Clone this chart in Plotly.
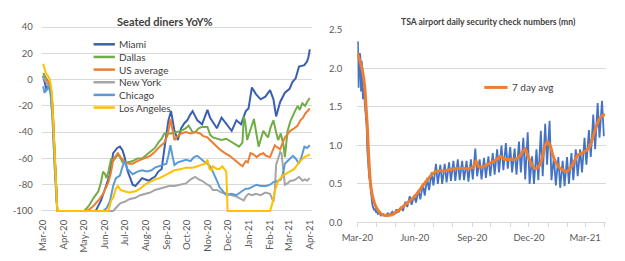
import pandas as pd
import plotly.graph_objects as go

START = pd.Timestamp("2020-03-01")

# ---------------- Left chart: Seated diners YoY% (day offset from 2020-03-01, value) ----
series_names = ["Miami", "Dallas", "US average", "New York", "Chicago", "Los Angeles"]
series_colors = ["#3B5FB0", "#70AD47", "#ED7D31", "#A5A5A5", "#5B9BD5", "#FFC000"]

miami = [(0, 3), (3, -5), (5, -8), (8, -3), (11, -8), (14, -25), (17, -60), (21, -100), (78, -100),
         (86, -92), (94, -80), (99, -72), (104, -56), (110, -52), (114, -51), (118, -54), (121, -59),
         (125, -69), (133, -80), (137, -81), (142, -78), (147, -75), (152, -76), (157, -77), (162, -75),
         (166, -74), (171, -70), (176, -68), (180, -53), (186, -31), (190, -24), (195, -39), (200, -46),
         (205, -37), (210, -33), (214, -31), (218, -27), (222, -24), (229, -31), (236, -34), (244, -23),
         (248, -29), (253, -33), (258, -37), (265, -29), (272, -34), (280, -39), (287, -31), (294, -34),
         (298, -28), (301, -24), (305, -22), (308, -10), (310, -6), (316, -11), (323, -15), (330, -13),
         (337, -8), (342, -15), (346, -28), (352, -17), (359, -10), (366, -7), (370, -2), (375, 1),
         (380, 10), (388, 11), (392, 14), (394, 17), (396, 23)]

dallas = [(0, 5), (4, 2), (8, -2), (11, -6), (14, -20), (17, -55), (21, -100), (61, -100), (68, -96),
          (75, -90), (82, -85), (86, -78), (89, -70), (92, -72), (94, -75), (97, -70), (101, -60),
          (104, -62), (111, -57), (114, -59), (118, -63), (125, -63), (133, -62), (140, -60), (147, -60),
          (154, -57), (159, -55), (166, -52), (171, -48), (176, -45), (180, -41), (190, -41), (197, -40),
          (205, -39), (212, -37), (216, -35), (222, -40), (226, -40), (231, -37), (236, -36), (244, -36),
          (248, -42), (252, -44), (258, -45), (265, -46), (272, -45), (281, -48), (291, -51), (296, -48),
          (298, -28), (300, -32), (303, -46), (308, -38), (313, -30), (317, -42), (320, -51), (324, -44),
          (327, -39), (331, -42), (334, -44), (338, -36), (342, -31), (346, -40), (349, -46), (353, -41),
          (357, -50), (359, -59), (361, -48), (363, -39), (367, -32), (370, -28), (374, -24), (378, -20),
          (381, -23), (385, -18), (389, -20), (392, -17), (396, -14)]

us_average = [(0, 2), (4, 0), (8, -2), (11, -5), (14, -20), (17, -55), (21, -100), (64, -100), (68, -99),
              (75, -96), (82, -92), (89, -87), (94, -82), (97, -78), (101, -70), (104, -61), (108, -58),
              (111, -56), (115, -59), (118, -61), (122, -63), (128, -64), (133, -64), (140, -62),
              (151, -60), (159, -58), (166, -55), (173, -51), (180, -48), (185, -42), (189, -30),
              (192, -38), (195, -46), (200, -43), (205, -41), (212, -40), (219, -41), (226, -40),
              (233, -41), (238, -43), (244, -44), (252, -48), (262, -53), (270, -56), (277, -58),
              (284, -61), (291, -64), (296, -66), (301, -62), (304, -63), (308, -56), (313, -57),
              (317, -59), (322, -57), (327, -56), (331, -58), (337, -59), (344, -50), (349, -52),
              (352, -53), (359, -44), (363, -41), (367, -39), (373, -37), (378, -35), (382, -31),
              (386, -29), (389, -26), (393, -24), (396, -22)]

new_york = [(0, 2), (4, -2), (8, -5), (11, -10), (14, -30), (17, -65), (21, -100), (104, -100),
            (107, -98), (111, -96), (115, -94), (121, -93), (128, -91), (137, -90), (144, -88), (151, -87),
            (159, -86), (166, -84), (173, -83), (180, -82), (187, -81), (195, -81), (205, -80), (212, -79),
            (219, -76), (222, -75), (226, -74), (231, -76), (236, -77), (244, -80), (248, -81), (252, -84),
            (258, -84), (265, -86), (272, -87), (280, -88), (287, -89), (294, -91), (298, -92), (301, -89),
            (305, -87), (310, -88), (316, -87), (323, -88), (330, -86), (337, -87), (342, -93), (344, -85),
            (346, -65), (349, -60), (352, -55), (354, -56), (357, -70), (359, -80), (363, -79), (367, -77),
            (370, -77), (375, -76), (380, -74), (385, -77), (389, -76), (392, -77), (396, -75)]

chicago = [(0, -5), (2, -10), (5, -8), (8, -5), (11, -10), (14, -30), (17, -65), (21, -100), (89, -100),
           (94, -98), (99, -93), (104, -81), (108, -75), (114, -73), (118, -66), (121, -62), (125, -68),
           (133, -72), (140, -70), (147, -69), (154, -70), (161, -69), (166, -67), (171, -66), (177, -65),
           (183, -64), (186, -58), (189, -50), (192, -58), (195, -65), (200, -63), (205, -62), (212, -61),
           (219, -62), (224, -59), (229, -58), (233, -60), (238, -62), (244, -64), (248, -66), (252, -70),
           (255, -73), (259, -78), (262, -82), (267, -85), (272, -88), (280, -87), (287, -88), (295, -85),
           (301, -83), (305, -83), (310, -82), (317, -80), (323, -81), (331, -81), (337, -80), (342, -78),
           (349, -77), (353, -76), (356, -72), (359, -64), (363, -62), (367, -60), (371, -58), (375, -60),
           (380, -64), (383, -60), (388, -51), (392, -52), (396, -50)]

los_angeles = [(0, 12), (2, 8), (4, 5), (7, 3), (10, 0), (13, -10), (16, -40), (19, -75), (21, -100),
               (97, -100), (101, -92), (104, -90), (108, -83), (111, -81), (115, -84), (121, -85),
               (128, -86), (137, -85), (144, -83), (151, -80), (158, -78), (166, -76), (173, -75),
               (180, -73), (187, -71), (190, -70), (195, -69), (205, -68), (212, -67), (222, -67),
               (229, -66), (236, -65), (241, -64), (244, -61), (247, -68), (250, -69), (252, -66),
               (258, -68), (262, -68), (266, -66), (270, -69), (272, -70), (274, -100), (337, -100),
               (340, -95), (344, -85), (349, -77), (356, -73), (363, -71), (366, -70), (373, -68),
               (380, -63), (388, -59), (392, -58), (396, -57)]

left_series = [miami, dallas, us_average, new_york, chicago, los_angeles]
left_yticks = [-100, -80, -60, -40, -20, 0, 20, 40]

# ---------------- Right chart: TSA daily security checks (mn) ----------------
tsa_early = [(0, 2.30), (1, 2.35), (2, 1.75), (4, 2.20), (5, 2.15), (6, 1.70), (7, 2.10), (8, 2.00),
             (9, 1.60), (11, 1.75), (12, 1.55), (13, 1.45), (14, 1.30), (15, 1.25), (16, 0.95),
             (17, 0.78), (18, 0.62), (19, 0.59), (20, 0.55), (21, 0.45), (22, 0.33), (23, 0.28),
             (24, 0.24), (25, 0.20), (26, 0.18), (27, 0.16), (28, 0.18), (29, 0.15), (30, 0.13),
             (31, 0.14), (32, 0.12), (33, 0.11), (34, 0.12)]
tsa_first_week = 5  # weekly high (Sunday) / low (Wednesday) from week starting 2020-04-05
tsa_week_high = [0.12, 0.11, 0.12, 0.14, 0.17, 0.20, 0.27, 0.34, 0.35, 0.42, 0.50, 0.58, 0.65, 0.76,
                 0.75, 0.76, 0.78, 0.80, 0.82, 0.80, 0.80, 0.82, 0.96, 0.82, 0.84, 0.86, 0.90, 0.95,
                 1.00, 1.03, 0.98, 0.96, 1.05, 1.10, 1.17, 0.86, 0.95, 1.19, 1.28, 1.32, 0.85, 0.85,
                 0.80, 0.85, 0.90, 0.95, 0.95, 1.10, 1.20, 1.40, 1.55, 1.58]
tsa_week_low = [0.09, 0.087, 0.095, 0.11, 0.13, 0.15, 0.20, 0.23, 0.26, 0.30, 0.35, 0.42, 0.48, 0.50,
                0.50, 0.52, 0.54, 0.54, 0.55, 0.55, 0.53, 0.56, 0.60, 0.56, 0.58, 0.60, 0.62, 0.65,
                0.68, 0.70, 0.65, 0.62, 0.65, 0.56, 0.50, 0.50, 0.55, 0.60, 0.75, 0.55, 0.48, 0.45,
                0.47, 0.50, 0.55, 0.60, 0.65, 0.75, 0.85, 0.95, 1.10, 1.12]

tsa_avg = [(0, 2.20), (4, 2.10), (8, 1.98), (12, 1.75), (14, 1.50), (16, 1.25), (18, 0.90), (20, 0.62),
           (22, 0.45), (25, 0.32), (29, 0.22), (33, 0.16), (40, 0.10), (48, 0.09), (55, 0.10), (62, 0.13),
           (68, 0.17), (75, 0.22), (84, 0.28), (91, 0.33), (98, 0.40), (105, 0.48), (112, 0.55),
           (118, 0.61), (125, 0.66), (132, 0.67), (140, 0.67), (150, 0.69), (160, 0.70), (170, 0.70),
           (180, 0.70), (186, 0.72), (190, 0.80), (194, 0.73), (200, 0.72), (210, 0.76), (220, 0.80),
           (230, 0.86), (236, 0.82), (245, 0.82), (252, 0.82), (260, 0.86), (265, 0.92), (269, 0.96),
           (273, 0.87), (278, 0.78), (284, 0.70), (290, 0.72), (295, 0.80), (300, 0.98), (304, 1.05),
           (309, 1.00), (313, 0.88), (318, 0.78), (324, 0.71), (330, 0.68), (336, 0.66), (342, 0.72),
           (348, 0.80), (354, 0.88), (360, 0.90), (366, 0.93), (372, 0.98), (378, 1.12), (383, 1.25),
           (388, 1.35), (393, 1.39), (397, 1.40)]
right_yticks = [0.0, 0.5, 1.0, 1.5, 2.0, 2.5]

# ---------------- helpers ----------------
W, H = 625, 261


def to_dates(days):
    return [START + pd.Timedelta(days=d) for d in days]


def px(x):
    return x / W


def py(y):
    return (H - y) / H


TXT = "#595959"
TITLE = "#404040"
GRID = "#D9D9D9"
FONT = "Lato"

fig = go.Figure()

for name, color, data in zip(series_names, series_colors, left_series):
    d, v = zip(*data)
    fig.add_trace(go.Scatter(x=to_dates(d), y=list(v), mode="lines", name=name,
                             line=dict(color=color, width=2), xaxis="x", yaxis="y",
                             showlegend=False, hoverinfo="skip"))

# daily TSA series
tsa_days = [d for d, _ in tsa_early]
tsa_vals = [v for _, v in tsa_early]
for i, (hi, lo) in enumerate(zip(tsa_week_high, tsa_week_low)):
    base = 7 * (tsa_first_week + i)
    tsa_days += [base, base + 3]
    tsa_vals += [hi, lo]
fig.add_trace(go.Scatter(x=to_dates(tsa_days), y=tsa_vals, mode="lines", name="Daily",
                         line=dict(color="#4472C4", width=1.8), xaxis="x2", yaxis="y2",
                         showlegend=False, hoverinfo="skip"))
ad, av = zip(*tsa_avg)
fig.add_trace(go.Scatter(x=to_dates(ad), y=list(av), mode="lines", name="7 day avg",
                         line=dict(color="#ED7D31", width=3, shape="spline", smoothing=0.6),
                         xaxis="x2", yaxis="y2", showlegend=False, hoverinfo="skip"))

# axes geometry (pixels)
l_ppd = 275 / 396          # px per day, left
l_x0 = 28 - 2 * l_ppd
l_x1 = 28 + 399 * l_ppd
l_ppu = 192 / 140          # px per unit, left
l_ylo, l_yhi = -101.5, 41
l_ybot = 214 + (-100 - l_ylo) * l_ppu
l_ytop = 22 - (l_yhi - 40) * l_ppu

r_ppd = 235 / 365
r_xend_day = (608 - 352) / r_ppd

fig.update_layout(
    width=W, height=H, margin=dict(l=0, r=0, t=0, b=0),
    paper_bgcolor="white", plot_bgcolor="white",
    font=dict(family=FONT, color=TXT, size=9),
    xaxis=dict(domain=[px(l_x0), px(l_x1)],
               range=[START + pd.Timedelta(days=-2), START + pd.Timedelta(days=399)],
               type="date", dtick="M1", tick0="2020-03-01", tickformat="%b-%y", tickangle=-90,
               showgrid=False, showline=False, zeroline=False, ticks="",
               tickfont=dict(size=9.5, color=TXT), ticklabelstandoff=4, anchor="y"),
    yaxis=dict(domain=[py(l_ybot), py(l_ytop)], range=[l_ylo, l_yhi],
               tickvals=left_yticks, ticktext=[str(t) for t in left_yticks],
               showgrid=True, gridcolor=GRID, gridwidth=1, zeroline=False, showline=False,
               tickfont=dict(size=9.5, color=TXT), ticklabelstandoff=8, anchor="x"),
    xaxis2=dict(domain=[px(352), px(608)],
                range=[START, START + pd.Timedelta(days=r_xend_day)],
                type="date", dtick="M3", tick0="2020-03-01", tickformat="%b-%y", tickangle=0,
                showgrid=False, showline=True, linecolor=GRID, linewidth=1, zeroline=False,
                ticks="outside", ticklen=4, tickcolor=GRID,
                minor=dict(dtick="M1", tick0="2020-03-01", ticks="outside", ticklen=4,
                           tickcolor=GRID, showgrid=False),
                tickfont=dict(size=9.5, color=TXT), ticklabelstandoff=2, anchor="y2"),
    yaxis2=dict(domain=[py(226), py(25)], range=[0, 2.5],
                tickvals=right_yticks, ticktext=[f"{t:.1f}" for t in right_yticks],
                showgrid=True, gridcolor=GRID, gridwidth=1, zeroline=False, showline=False,
                tickfont=dict(size=9.5, color=TXT), ticklabelstandoff=14, anchor="x2"),
)

annotations = [
    dict(text="<b>Seated diners YoY%</b>", x=px(154), y=py(16), xref="paper", yref="paper",
         showarrow=False, xanchor="center", yanchor="middle", font=dict(size=11, color=TITLE)),
    dict(text="<b>TSA airport daily security check numbers (mn)</b>", x=px(487), y=py(17),
         xref="paper", yref="paper", showarrow=False, xanchor="center", yanchor="middle",
         font=dict(size=8.6, color=TITLE)),
]
shapes = []
# left legend
for i, (name, color) in enumerate(zip(series_names, series_colors)):
    yy = 40 + i * 13.2
    shapes.append(dict(type="line", xref="paper", yref="paper", x0=px(80), x1=px(102),
                       y0=py(yy), y1=py(yy), line=dict(color=color, width=2.5)))
    annotations.append(dict(text=name, x=px(104), y=py(yy), xref="paper", yref="paper",
                            showarrow=False, xanchor="left", yanchor="middle",
                            font=dict(size=10, color=TITLE)))
# right legend
shapes.append(dict(type="line", xref="paper", yref="paper", x0=px(483), x1=px(507),
                   y0=py(85), y1=py(85), line=dict(color="#ED7D31", width=3)))
annotations.append(dict(text="7 day avg", x=px(509), y=py(85), xref="paper", yref="paper",
                        showarrow=False, xanchor="left", yanchor="middle",
                        font=dict(size=10, color=TITLE)))

fig.update_layout(annotations=annotations, shapes=shapes)
fig.write_html("out.html")
